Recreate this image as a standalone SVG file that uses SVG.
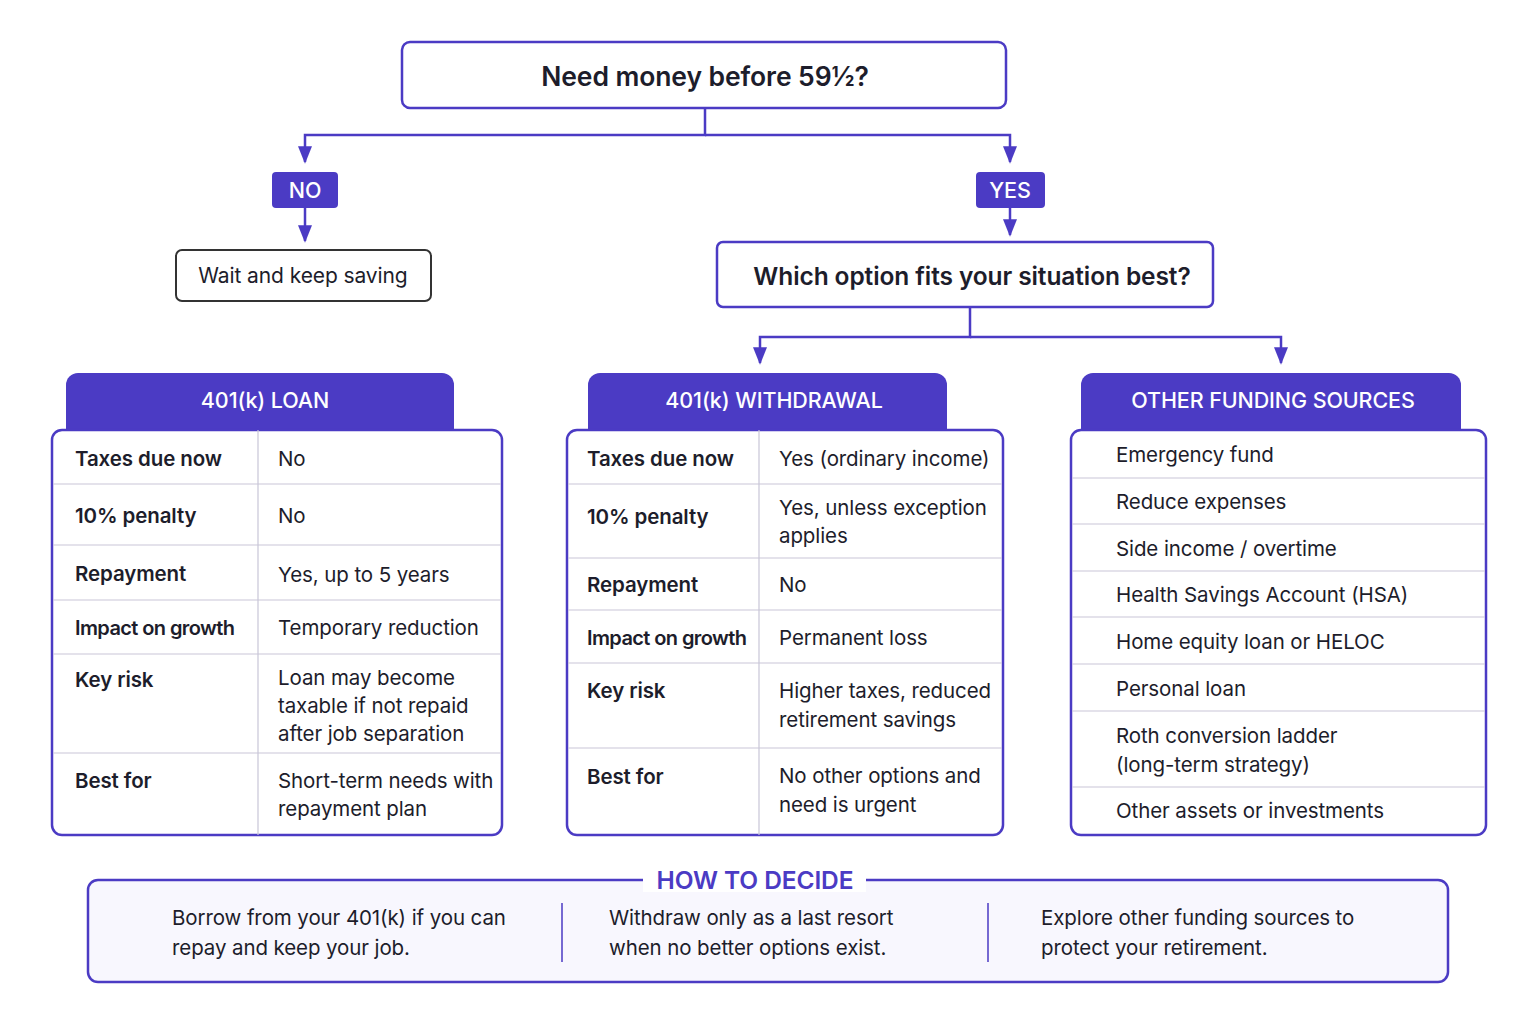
<svg xmlns="http://www.w3.org/2000/svg" width="1535" height="1024" viewBox="0 0 1535 1024">
<defs>
<marker id="ar" viewBox="0 0 10 10" refX="9" refY="5" markerWidth="7" markerHeight="7" orient="auto"><path d="M0,1 L10,5 L0,9 z" fill="#4B3BC4"/></marker>
<style>
text{font-family:Inter,"Noto Sans",sans-serif;fill:#1d1d2b;font-size:20.5px;letter-spacing:-0.1px}
.b{font-weight:600}
.w{fill:#fff;font-size:21.5px;text-anchor:middle;font-weight:500}
.pb{fill:none;stroke:#4B3BC4;stroke-width:2.5}
.tab{fill:#4B3BC4}
.ln{stroke:#c9c6d8;stroke-width:1.2}
.c{fill:none;stroke:#4B3BC4;stroke-width:2.5}
.t1{font-size:26.5px}
.t2{font-size:24.5px}
.s{font-size:20px}
</style>
</defs>
<rect width="1535" height="1024" fill="#fff"/>
<g id="connectors">
<path class="c" d="M705,108 V135 H305 V162" marker-end="url(#ar)"/>
<path class="c" d="M705,135 H1010 V162" marker-end="url(#ar)"/>
<path class="c" d="M305,208 V241" marker-end="url(#ar)"/>
<path class="c" d="M1010,208 V235" marker-end="url(#ar)"/>
<path class="c" d="M970,307 V337 H760 V363" marker-end="url(#ar)"/>
<path class="c" d="M970,337 H1281 V363" marker-end="url(#ar)"/>
</g>
<g id="root"><rect x="402" y="42" width="604" height="66" rx="8" class="pb"/><text x="705" y="86" text-anchor="middle" class="b t1">Need money before 59½?</text></g>
<g id="no"><rect x="272" y="172" width="66" height="36" rx="4" class="tab"/><text x="305" y="198" class="w">NO</text></g>
<g id="yes"><rect x="976" y="172" width="69" height="36" rx="4" class="tab"/><text x="1010" y="198" class="w">YES</text></g>
<g id="wait"><rect x="176" y="250" width="255" height="51" rx="6" fill="none" stroke="#333" stroke-width="2"/><text x="303" y="283" text-anchor="middle" style="font-size:21px">Wait and keep saving</text></g>
<g id="which"><rect x="717" y="242" width="496" height="65" rx="6" class="pb"/><text x="972" y="285" text-anchor="middle" class="b t2">Which option fits your situation best?</text></g>

<g id="loan">
<path d="M66,430 V385 a12,12 0 0 1 12,-12 H442 a12,12 0 0 1 12,12 V430 z" class="tab"/>
<text x="265" y="408" class="w">401(k) LOAN</text>
<rect x="52" y="430" width="450" height="405" rx="10" class="pb"/>
<path class="ln" d="M258,430 V835 M53,484 H501 M53,545 H501 M53,600 H501 M53,654 H501 M53,753 H501"/>
<text x="75" y="466" class="b">Taxes due now</text><text x="278" y="466">No</text>
<text x="75" y="523" class="b">10% penalty</text><text x="278" y="523">No</text>
<text x="75" y="581" class="b">Repayment</text><text x="278" y="582">Yes, up to 5 years</text>
<text x="75" y="635" class="b s" style="letter-spacing:-0.6px">Impact on growth</text><text x="278" y="635">Temporary reduction</text>
<text x="75" y="687" class="b">Key risk</text><text x="278" y="685">Loan may become</text><text x="278" y="713">taxable if not repaid</text><text x="278" y="741">after job separation</text>
<text x="75" y="788" class="b">Best for</text><text x="278" y="788">Short-term needs with</text><text x="278" y="816">repayment plan</text>
</g>

<g id="withdrawal">
<path d="M588,430 V385 a12,12 0 0 1 12,-12 H935 a12,12 0 0 1 12,12 V430 z" class="tab"/>
<text x="774" y="408" class="w">401(k) WITHDRAWAL</text>
<rect x="567" y="430" width="436" height="405" rx="10" class="pb"/>
<path class="ln" d="M759,430 V835 M568,484 H1002 M568,558 H1002 M568,610 H1002 M568,663 H1002 M568,748 H1002"/>
<text x="587" y="466" class="b">Taxes due now</text><text x="779" y="466">Yes (ordinary income)</text>
<text x="587" y="524" class="b">10% penalty</text><text x="779" y="515">Yes, unless exception</text><text x="779" y="543">applies</text>
<text x="587" y="592" class="b">Repayment</text><text x="779" y="592">No</text>
<text x="587" y="645" class="b s" style="letter-spacing:-0.6px">Impact on growth</text><text x="779" y="645">Permanent loss</text>
<text x="587" y="698" class="b">Key risk</text><text x="779" y="698">Higher taxes, reduced</text><text x="779" y="727">retirement savings</text>
<text x="587" y="784" class="b">Best for</text><text x="779" y="783">No other options and</text><text x="779" y="812">need is urgent</text>
</g>

<g id="other">
<path d="M1081,430 V385 a12,12 0 0 1 12,-12 H1449 a12,12 0 0 1 12,12 V430 z" class="tab"/>
<text x="1273" y="408" class="w">OTHER FUNDING SOURCES</text>
<rect x="1071" y="430" width="415" height="405" rx="10" class="pb"/>
<path class="ln" d="M1072,478 H1485 M1072,524 H1485 M1072,571 H1485 M1072,617 H1485 M1072,664 H1485 M1072,711 H1485 M1072,787 H1485"/>
<text x="1116" y="462">Emergency fund</text>
<text x="1116" y="509">Reduce expenses</text>
<text x="1116" y="556">Side income / overtime</text>
<text x="1116" y="602">Health Savings Account (HSA)</text>
<text x="1116" y="649">Home equity loan or HELOC</text>
<text x="1116" y="696">Personal loan</text>
<text x="1116" y="743">Roth conversion ladder</text><text x="1116" y="772">(long-term strategy)</text>
<text x="1116" y="818">Other assets or investments</text>
</g>

<g id="decide">
<rect x="88" y="880" width="1360" height="102" rx="10" class="pb" style="fill:#F8F7FE"/>
<rect x="643" y="868" width="223" height="24" fill="#fff"/>
<text x="755" y="889" text-anchor="middle" class="b t2" style="fill:#4B3BC4">HOW TO DECIDE</text>
<path d="M562,903 V962 M988,903 V962" stroke="#4B3BC4" stroke-width="1.5"/>
<text x="172" y="925">Borrow from your 401(k) if you can</text><text x="172" y="955">repay and keep your job.</text>
<text x="609" y="925">Withdraw only as a last resort</text><text x="609" y="955">when no better options exist.</text>
<text x="1041" y="925">Explore other funding sources to</text><text x="1041" y="955">protect your retirement.</text>
</g>
</svg>
